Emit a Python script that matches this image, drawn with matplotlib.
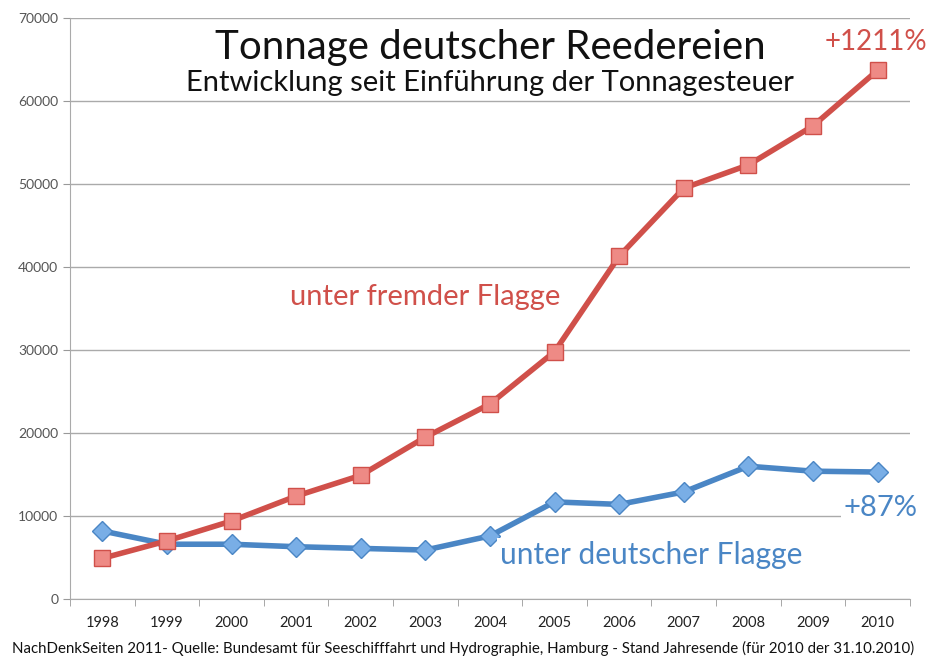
import matplotlib

matplotlib.use("Agg")
import matplotlib.pyplot as plt

years = [1998, 1999, 2000, 2001, 2002, 2003, 2004, 2005, 2006, 2007, 2008, 2009, 2010]
foreign_flag = [4900, 7000, 9400, 12400, 14900, 19500, 23500, 29800, 41300, 49500, 52300, 57000, 63700]
german_flag = [8200, 6600, 6600, 6300, 6100, 5900, 7600, 11700, 11400, 12900, 16000, 15400, 15300]
y_ticks = [0, 10000, 20000, 30000, 40000, 50000, 60000, 70000]

RED, RED_LIGHT = "#d0504a", "#ee8a85"
BLUE, BLUE_LIGHT = "#4a86c5", "#79aee6"

plt.rcParams["font.family"] = ["Lato", "DejaVu Sans"]

fig = plt.figure(figsize=(9.26, 6.6), dpi=100)
ax = fig.add_axes([0.0756, 0.0924, 0.907, 0.8803])

ax.plot(years, german_flag, color=BLUE, lw=4, marker="D", ms=10,
        mfc=BLUE_LIGHT, mec=BLUE, mew=1, zorder=3)
ax.plot(years, foreign_flag, color=RED, lw=4, marker="s", ms=11,
        mfc=RED_LIGHT, mec=RED, mew=1, zorder=4)

ax.set_xlim(1997.5, 2010.5)
ax.set_ylim(0, 70000)
ax.set_yticks(y_ticks)
ax.set_yticklabels([str(v) for v in y_ticks])
ax.set_xticks(years)
ax.set_xticks([y + 0.5 for y in [1997] + years], minor=True)
ax.tick_params(axis="x", which="major", length=0, pad=12, labelsize=10.5, labelcolor="#222222")
ax.tick_params(axis="x", which="minor", length=5, color="#999999")
ax.tick_params(axis="y", length=5, color="#999999", labelsize=10, labelcolor="#555555")
ax.yaxis.grid(True, color="#aaaaaa", lw=1)
ax.set_axisbelow(True)
for s in ["top", "right"]:
    ax.spines[s].set_visible(False)
for s in ["left", "bottom"]:
    ax.spines[s].set_color("#aaaaaa")

box = dict(facecolor="white", edgecolor="none", pad=2)
# title block sits inside the plot area
ax.text(0.5, 0.949, "Tonnage deutscher Reedereien", transform=ax.transAxes,
        ha="center", va="center", fontsize=29, color="#111111", zorder=5)
ax.text(0.5, 0.889, "Entwicklung seit Einführung der Tonnagesteuer", transform=ax.transAxes,
        ha="center", va="center", fontsize=21, color="#111111", zorder=5)
ax.text(2000.9, 36400, "unter fremder Flagge", ha="left", va="center",
        fontsize=21, color=RED, zorder=5)
ax.text(2004.15, 5300, "unter deutscher Flagge", ha="left", va="center",
        fontsize=21.5, color=BLUE, bbox=box, zorder=5)
ax.text(2009.97, 67100, "+1211%", ha="center", va="center",
        fontsize=20, color=RED, bbox=box, zorder=5)
ax.text(2010.05, 11000, "+87%", ha="center", va="center",
        fontsize=21, color=BLUE, bbox=box, zorder=5)

fig.text(0.5, 0.018, "NachDenkSeiten 2011- Quelle: Bundesamt für Seeschifffahrt und Hydrographie, "
         "Hamburg - Stand Jahresende (für 2010 der 31.10.2010)",
         ha="center", va="center", fontsize=10.8, color="#111111")

fig.savefig("out.png", dpi=100)
